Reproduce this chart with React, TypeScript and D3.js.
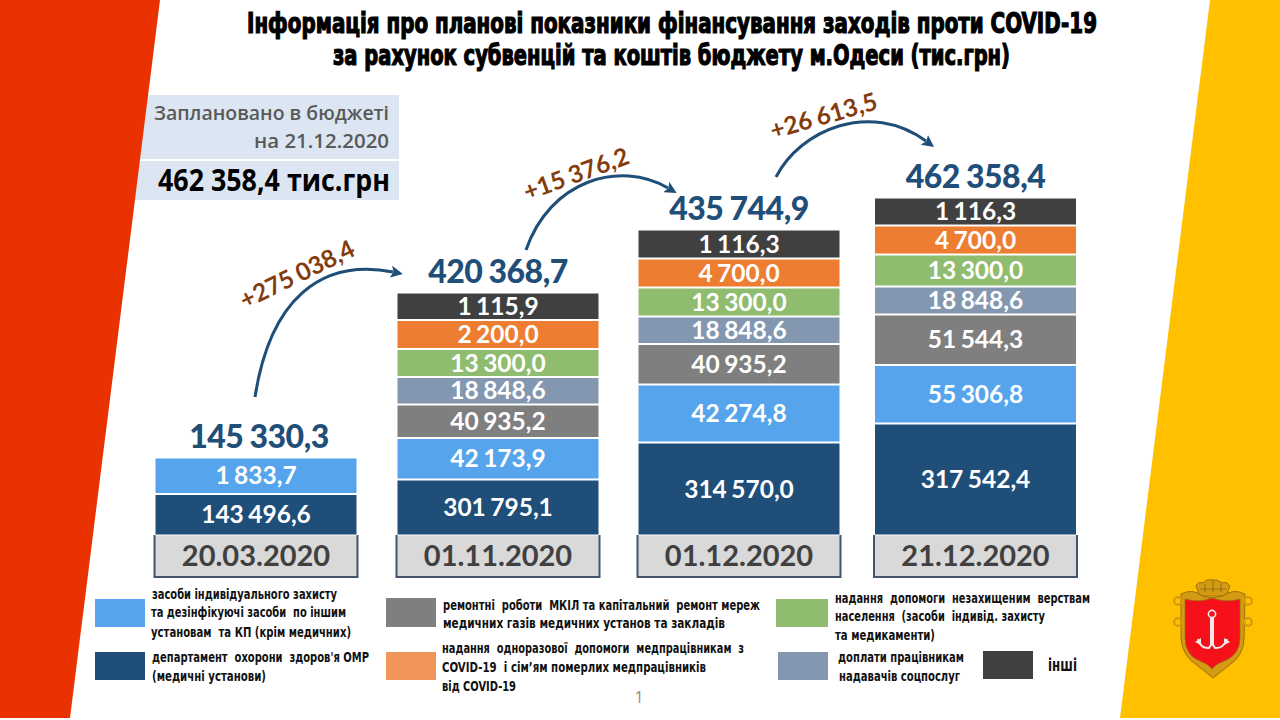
import React from "react";
import * as d3 from "d3";

// ---- data ----
const dates = ["20.03.2020", "01.11.2020", "01.12.2020", "21.12.2020"];
const totals = ["145 330,3", "420 368,7", "435 744,9", "462 358,4"];
const deltas = ["+275 038,4", "+15 376,2", "+26 613,5"];
const health = [143496.6, 301795.1, 314570.0, 317542.4];
const protection = [1833.7, 42173.9, 42274.8, 55306.8];
const repairs = [0, 40935.2, 40935.2, 51544.3];
const socialPay = [0, 18848.6, 18848.6, 18848.6];
const vulnerable = [0, 13300.0, 13300.0, 13300.0];
const oneOff = [0, 2200.0, 4700.0, 4700.0];
const other = [0, 1115.9, 1116.3, 1116.3];
const seriesValues = [health, protection, repairs, socialPay, vulnerable, oneOff, other];
const titleLines = [
  "Інформація про планові показники фінансування заходів проти COVID-19",
  "за рахунок субвенцій та коштів бюджету м.Одеси (тис.грн)",
];

// ---- styles and layout ----
const seriesColors = ["#1F4E79", "#56A5EC", "#7F7F7F", "#8497B0", "#8FBC6E", "#ED7D31", "#404040"];
const NUM = "Lato, Carlito, 'Open Sans', sans-serif";
const CAL = "'Open Sans', 'Noto Sans', sans-serif";
const NARROW = "'Liberation Sans Narrow', 'DejaVu Sans Condensed', sans-serif";

// The source slide sizes its segments by hand, not in proportion to the values, so each
// column maps its cumulative values onto the segment edges seen there (piecewise scale).
const columnEdges = [
  [535.5, 494, 457.5],
  [535.5, 479.5, 438, 404.5, 377, 349, 320, 292.5],
  [535.5, 442.5, 384.5, 344, 316.5, 287.5, 258.5, 229.5],
  [535.5, 423.5, 365, 314.5, 286.5, 254.5, 225.5, 197.5],
];
const columnLeft = d3.scaleOrdinal<string, number>().domain(dates).range([155.5, 397.5, 638.5, 875]);
const barWidth = 201;
const totalBaseline = [448, 283, 220, 188];
const totalShift = [3, 0, 0, 0];
const deltaArcs = [
  [255, 397, 270, 300, 320, 258, 393, 272],
  [526, 250, 550, 180, 620, 160, 668, 188],
  [776, 177, 800, 130, 870, 100, 926, 141],
];
const deltaLabels = [
  { x: 301, y: 282, r: -26 },
  { x: 579, y: 182, r: -20 },
  { x: 826, y: 124, r: -16 },
];
const swatches = [
  { x: 95, y: 599, w: 50, h: 28, c: "#56A5EC" },
  { x: 95, y: 652, w: 50, h: 28, c: "#1F4E79" },
  { x: 386, y: 598, w: 50, h: 29, c: "#7F7F7F" },
  { x: 386, y: 652, w: 50, h: 28, c: "#F0965A" },
  { x: 776, y: 599, w: 52, h: 28, c: "#8FBC6E" },
  { x: 778, y: 652, w: 50, h: 28, c: "#8497B0" },
  { x: 983, y: 651, w: 50, h: 28, c: "#404040" },
];
const legendLines = [
  { t: "засоби індивідуального захисту", x: 152, e: 337, y: 599 },
  { t: "та дезінфікуючі засоби  по іншим", x: 151, e: 346, y: 617 },
  { t: "установам  та КП (крім медичних)", x: 151, e: 351, y: 637 },
  { t: "департамент  охорони  здоров'я ОМР", x: 152, e: 369, y: 662 },
  { t: "(медичні установи)", x: 152, e: 266, y: 681 },
  { t: "ремонтні  роботи  МКІЛ та капітальний  ремонт мереж", x: 443, e: 760, y: 610 },
  { t: "медичних газів медичних установ та закладів", x: 443, e: 725, y: 628 },
  { t: "надання  одноразової  допомоги  медпрацівникам  з", x: 442, e: 744, y: 653 },
  { t: "COVID-19  і сім’ям померлих медпрацівників", x: 442, e: 706, y: 672 },
  { t: "від COVID-19", x: 442, e: 516, y: 691 },
  { t: "надання  допомоги  незахищеним  верствам", x: 835, e: 1090, y: 603 },
  { t: "населення  (засоби  індивід. захисту", x: 835, e: 1045, y: 621 },
  { t: "та медикаменти)", x: 835, e: 935, y: 640 },
  { t: "доплати працівникам", x: 838, e: 964, y: 662 },
  { t: "надавачів соцпослуг", x: 839, e: 960, y: 681 },
];

function arcPath(a: number[]) {
  const p = d3.path();
  p.moveTo(a[0], a[1]);
  p.bezierCurveTo(a[2], a[3], a[4], a[5], a[6], a[7]);
  return p.toString();
}

function Crest() {
  const gold = "#D49B12";
  const edge = "#9A7010";
  return (
    <g transform="translate(1160,570)">
      {/* crown */}
      <path
        d="M36 16 Q38 11 43 13 Q46 9 52 10 Q58 9 62 13 Q67 11 70 16 L66 26 L40 26 Z"
        fill={gold}
        stroke={edge}
        strokeWidth={1}
      />
      <path d="M45 14 L45 22 M53 11 L53 22 M61 14 L61 22 M40 19 L66 19" stroke={edge} strokeWidth={1.2} fill="none" />
      {/* frame with scrolls */}
      <path
        d="M21 24 Q33 18 42 26 L52 28 L63 26 Q73 18 85 24 L84 68 Q84 86 68 96 L53 108 L38 96 Q22 86 21 68 Z"
        fill={gold}
        stroke={edge}
        strokeWidth={1}
      />
      <g fill="none" stroke={gold} strokeWidth={2.2}>
        <circle cx={18} cy={31} r={3.8} />
        <circle cx={88} cy={31} r={3.8} />
        <circle cx={18} cy={52} r={3.8} />
        <circle cx={88} cy={52} r={3.8} />
      </g>
      {/* shield */}
      <path
        d="M25 29 Q40 33 52 28 Q66 33 80 29 L80 68 Q80 86 62 92 Q56 94 52 99 Q48 94 42 92 Q25 86 25 68 Z"
        fill="#F5101A"
        stroke={edge}
        strokeWidth={0.8}
      />
      {/* anchor */}
      <circle cx={52} cy={44} r={3.6} fill="none" stroke="#F6E8E8" strokeWidth={1.6} />
      <path d="M52 48 V76" stroke="#F6E8E8" strokeWidth={4} />
      <path d="M38 69 Q41 79 49 78 L52 73 L55 78 Q63 79 67 69" fill="none" stroke="#F6E8E8" strokeWidth={2} />
      <path d="M35 72 L41 68 L41 75 Z M70 72 L64 68 L64 75 Z" fill="#F6E8E8" />
    </g>
  );
}

export default function App() {
  return (
    <svg
      width={1280}
      height={720}
      viewBox="0 0 1280 720"
      style={{ position: "absolute", left: 0, top: 0, background: "#fff" }}
    >
      <defs>
        <marker id="head" markerUnits="userSpaceOnUse" markerWidth={14} markerHeight={12} refX={2} refY={6} orient="auto">
          <path d="M0 0 L12 6 L0 12 L2.5 6 Z" fill="#1F4E79" />
        </marker>
      </defs>

      {/* info box sits under the red band */}
      <rect x={120} y={95} width={279} height={64} fill="#DCE6F2" />
      <rect x={120} y={161} width={279} height={39} fill="#DCE6F2" />

      <polygon points="0,0 160,0 70,718 0,718" fill="#E93200" />
      <polygon points="1210,0 1280,0 1280,718 1120,718" fill="#FFC000" />

      {titleLines.map((t, i) => (
        <text
          key={t}
          x={i ? 333 : 247}
          y={i ? 65 : 33}
          textLength={i ? 677 : 850}
          lengthAdjust="spacingAndGlyphs"
          fontFamily={NARROW}
          fontWeight={700}
          fontSize={28}
          fill="#000"
          stroke="#000"
          strokeWidth={1.2}
        >
          {t}
        </text>
      ))}

      <text x={154} y={120} textLength={235} lengthAdjust="spacingAndGlyphs" fontFamily={CAL} fontWeight={600} fontSize={20} fill="#595959">
        Заплановано в бюджеті
      </text>
      <text x={254} y={148} textLength={135} lengthAdjust="spacingAndGlyphs" fontFamily={CAL} fontWeight={600} fontSize={20} fill="#595959">
        на 21.12.2020
      </text>
      <text x={158} y={191} textLength={232} lengthAdjust="spacingAndGlyphs" fontFamily={CAL} fontWeight={700} fontSize={31} fill="#000">
        462 358,4 тис.грн
      </text>

      {dates.map((date, ci) => {
        const vals = seriesValues.map((s, si) => ({ v: s[ci], si })).filter((d) => d.v > 0);
        const cum = [0, ...d3.cumsum(vals, (d) => d.v)];
        const y = d3.scaleLinear().domain(cum).range(columnEdges[ci]);
        const x0 = columnLeft(date);
        return (
          <g key={date}>
            {vals.map((d, i) => {
              const top = y(cum[i + 1]);
              const bottom = y(cum[i]);
              return (
                <g key={d.si}>
                  <rect x={x0} y={top + 1} width={barWidth} height={bottom - top - 2} fill={seriesColors[d.si]} />
                  <text
                    x={x0 + barWidth / 2}
                    y={(top + bottom) / 2 + 8.5}
                    textAnchor="middle"
                    fontFamily={NUM}
                    fontWeight={700}
                    fontSize={24.5}
                    wordSpacing={-1.5}
                    fill="#fff"
                  >
                    {d3.format(",.1f")(d.v).replace(/,/g, " ").replace(".", ",")}
                  </text>
                </g>
              );
            })}
            <rect x={x0 - 0.5} y={535.5} width={barWidth + 1} height={41} fill="#D9D9D9" />
            <path d={`M${x0 - 1} 535 V577 H${x0 + barWidth + 1} V535`} fill="none" stroke="#44546A" strokeWidth={2} />
            <text x={x0 + barWidth / 2} y={566} textAnchor="middle" fontFamily={NUM} fontWeight={700} fontSize={29} fill="#404040">
              {date}
            </text>
            <text
              x={x0 + barWidth / 2 + totalShift[ci]}
              y={totalBaseline[ci]}
              textAnchor="middle"
              fontFamily={NUM}
              fontWeight={900}
              fontSize={32}
              letterSpacing={-0.5}
              wordSpacing={-1}
              fill="#1F4E79"
            >
              {totals[ci]}
            </text>
          </g>
        );
      })}

      {deltaArcs.map((a, i) => (
        <path key={i} d={arcPath(a)} fill="none" stroke="#1F4E79" strokeWidth={3} markerEnd="url(#head)" />
      ))}
      {deltas.map((t, i) => (
        <text
          key={t}
          transform={`translate(${deltaLabels[i].x},${deltaLabels[i].y}) rotate(${deltaLabels[i].r})`}
          textAnchor="middle"
          fontFamily={NUM}
          fontWeight={700}
          fontSize={24.5}
          wordSpacing={-1}
          fill="#843C0C"
        >
          {t}
        </text>
      ))}

      {swatches.map((s, i) => (
        <rect key={i} x={s.x} y={s.y} width={s.w} height={s.h} fill={s.c} />
      ))}
      {legendLines.map((l) => (
        <text
          key={l.t}
          x={l.x}
          y={l.y}
          textLength={l.e - l.x}
          lengthAdjust="spacingAndGlyphs"
          fontFamily={NARROW}
          fontWeight={700}
          fontSize={14.5}
          fill="#111"
          xmlSpace="preserve"
        >
          {l.t}
        </text>
      ))}
      <text x={1048} y={671} textLength={29} lengthAdjust="spacingAndGlyphs" fontFamily={NARROW} fontWeight={700} fontSize={17} fill="#111">
        інші
      </text>
      <text x={639} y={703} textAnchor="middle" fontFamily={CAL} fontSize={16} fill="#8C8C8C">
        1
      </text>
      <Crest />
    </svg>
  );
}
